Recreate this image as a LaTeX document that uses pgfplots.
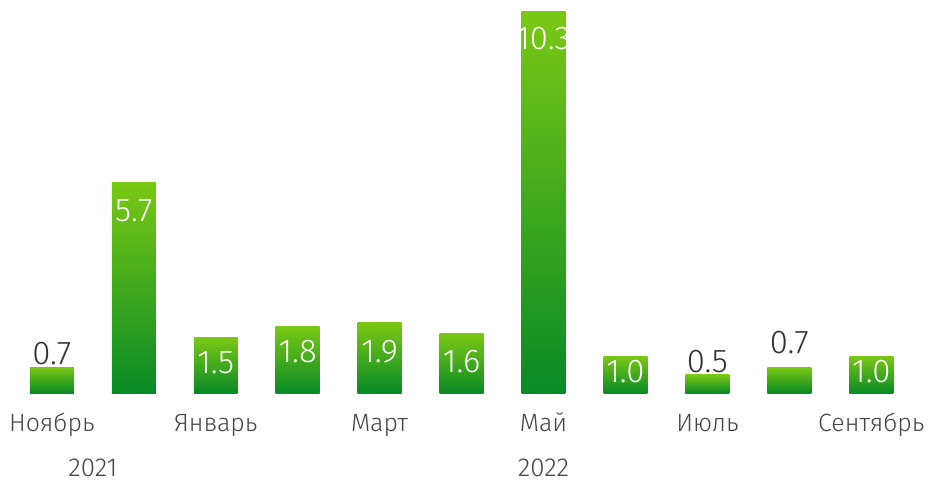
\documentclass[border=0pt]{standalone}
\usepackage{pgfplots}
\pgfplotsset{compat=1.18}
\usepackage{fontspec}
\setmainfont{Fira Sans Light}
\definecolor{bartop}{RGB}{122,200,20}
\definecolor{barbot}{RGB}{8,138,38}
\definecolor{txtdark}{RGB}{51,51,51}
\definecolor{txtgray}{RGB}{70,70,70}

\begin{document}
\begin{tikzpicture}
\begin{axis}[
    x=41.05bp, y=18.545bp,
    xmin=-0.633, xmax=10.706,
    ymin=0, ymax=10.3,
    clip=false,
    axis line style={draw=none},
    tick style={draw=none},
    ytick=\empty,
    xtick={0,...,10},
    xticklabels={Ноябрь,,Январь,,Март,,Май,,Июль,,Сентябрь},
    xticklabel style={font=\fontsize{12.5bp}{14bp}\selectfont, text=txtgray, anchor=base, yshift=-19bp},
    gbar/.style={ybar, bar width=22bp, bar shift=0pt, draw=none,
        top color=bartop, bottom color=barbot},
]
    \path (axis cs:-0.633,-2.29) rectangle (axis cs:10.706,10.62);
    % one plot per bar so every bar gets its own gradient
    \addplot[gbar] coordinates {(0,0.7)};
    \addplot[gbar] coordinates {(1,5.7)};
    \addplot[gbar] coordinates {(2,1.5)};
    \addplot[gbar] coordinates {(3,1.8)};
    \addplot[gbar] coordinates {(4,1.9)};
    \addplot[gbar] coordinates {(5,1.6)};
    \addplot[gbar] coordinates {(6,10.3)};
    \addplot[gbar] coordinates {(7,1.0)};
    \addplot[gbar] coordinates {(8,0.5)};
    \addplot[gbar] coordinates {(9,0.7)};
    \addplot[gbar] coordinates {(10,1.0)};
    % labels inside bars
    \addplot[draw=none, mark=none, point meta=explicit symbolic,
        nodes near coords, nodes near coords align={center},
        every node near coord/.append style={text=white, anchor=center, inner sep=0pt, font=\fontsize{16.5bp}{18bp}\selectfont}]
        table[meta=lab] {
        x y lab
        1 4.93 5.7
        2 0.81 1.5
        3 1.13 1.8
        4 1.11 1.9
        5 0.86 1.6
        6 9.57 10.3
        7 0.57 1.0
        10 0.57 1.0
    };
    % labels above bars
    \addplot[draw=none, mark=none, point meta=explicit symbolic,
        nodes near coords, nodes near coords align={center},
        every node near coord/.append style={text=txtdark, anchor=center, inner sep=0pt, font=\fontsize{16.5bp}{18bp}\selectfont}]
        table[meta=lab] {
        x y lab
        0 1.08 0.7
        8 0.84 0.5
        9 1.375 0.7
    };
    \node[anchor=base, text=txtgray, font=\fontsize{13bp}{15bp}\selectfont] at (axis cs:0.5,-2.24) {2021};
    \node[anchor=base, text=txtgray, font=\fontsize{13bp}{15bp}\selectfont] at (axis cs:6,-2.24) {2022};
\end{axis}
\end{tikzpicture}
\end{document}
